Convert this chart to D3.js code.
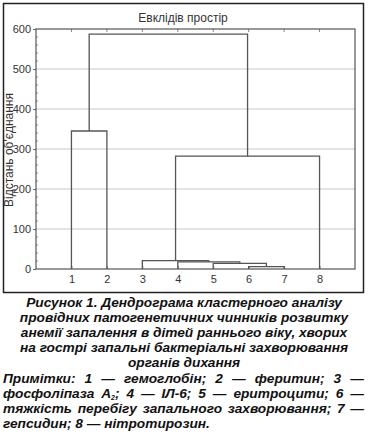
<!DOCTYPE html>
<html><head><meta charset="utf-8">
<script src="https://cdn.jsdelivr.net/npm/d3@7"></script>
<style>
html,body{margin:0;padding:0;background:#fff;}
#wrap{position:relative;width:368px;height:436px;overflow:hidden;}
.cap{position:absolute;font-family:"Liberation Sans",Arial,sans-serif;font-weight:bold;font-style:italic;font-size:13.7px;line-height:15px;height:15px;color:#111;white-space:nowrap;}
.c{left:0;width:368px;text-align:center;}
.j{left:3px;width:361px;text-align:justify;text-align-last:justify;white-space:normal;}
.l{left:3px;width:361px;text-align:left;}
sub{font-size:7px;vertical-align:-2px;line-height:0;}
</style></head>
<body><div id="wrap"><svg id="chart" width="368" height="300"></svg></div>
<script>
// ---- data ----
const leafLabels = ["1","2","3","4","5","6","7","8"];
// linkage: nodes 0..7 are leaves, merge i creates node 8+i
const mergeA = [5, 4, 3, 2, 11, 0, 13];
const mergeB = [6, 8, 9, 10, 7, 1, 12];
const mergeHeight = [6, 14, 18, 21, 282, 345, 587];
const yTicks = [0, 100, 200, 300, 400, 500, 600];
const chartTitle = "Евклідів простір";
const yLabel = "Відстань об'єднання";
const captionTitle = [
  "Рисунок 1. Дендрограма кластерного аналізу",
  "провідних патогенетичних чинників розвитку",
  "анемії запалення в дітей раннього віку, хворих",
  "на гострі запальні бактеріальні захворювання",
  "органів дихання"
];
const captionNotes = [
  "Примітки: 1 — гемоглобін; 2 — феритин; 3 —",
  "фосфоліпаза А<sub>2</sub>; 4 — ІЛ-6; 5 — еритроцити; 6 —",
  "тяжкість перебігу запального захворювання; 7 —",
  "гепсидин; 8 — нітротирозин."
];

// ---- layout ----
const svg = d3.select("#chart");
const L = 36, R = 355, T = 29, B = 269;
const x = d3.scaleLinear().domain([0, leafLabels.length + 1]).range([L, R]);
const y = d3.scaleLinear().domain([0, 600]).range([B, T]);

// outer frame
svg.append("rect").attr("x", 3.5).attr("y", 3.5).attr("width", 360).attr("height", 289)
  .attr("fill", "none").attr("stroke", "#222").attr("stroke-width", 1.5);

// grid
svg.append("g").selectAll("line").data(yTicks.filter(d => d > 0 && d < 600)).join("line")
  .attr("x1", L).attr("x2", R).attr("y1", d => y(d)).attr("y2", d => y(d))
  .attr("stroke", "#c8c8c8").attr("stroke-width", 1);

// y axis
const yAxis = d3.axisLeft(y).tickValues(yTicks).tickSize(3).tickPadding(2);
const gy = svg.append("g").attr("transform", `translate(${L},0)`).call(yAxis);
gy.select(".domain").remove();
gy.selectAll("line").attr("stroke", "#666");
gy.selectAll("text").attr("font-family", "Liberation Sans, Arial, sans-serif").attr("font-size", 11).attr("fill", "#333");
// minor ticks
svg.append("g").selectAll("line").data(d3.range(0, 601, 20).filter(d => d % 100)).join("line")
  .attr("x1", L).attr("x2", L + 2).attr("y1", d => y(d)).attr("y2", d => y(d)).attr("stroke", "#999");

// x axis
const xAxis = d3.axisBottom(x).tickValues(d3.range(1, leafLabels.length + 1))
  .tickFormat((d, i) => leafLabels[i]).tickSize(-3).tickPadding(6);
const gx = svg.append("g").attr("transform", `translate(0,${B})`).call(xAxis);
gx.select(".domain").remove();
gx.selectAll("line").attr("stroke", "#888");
gx.selectAll("text").attr("font-family", "Liberation Sans, Arial, sans-serif").attr("font-size", 11).attr("fill", "#333");
// top ticks
svg.append("g").selectAll("line").data(d3.range(1, leafLabels.length + 1)).join("line")
  .attr("x1", d => x(d)).attr("x2", d => x(d)).attr("y1", T).attr("y2", T + 3).attr("stroke", "#888");

// plot frame
svg.append("rect").attr("x", L).attr("y", T).attr("width", R - L).attr("height", B - T)
  .attr("fill", "none").attr("stroke", "#555").attr("stroke-width", 1.2);

// dendrogram
const nodeX = leafLabels.map((d, i) => x(i + 1));
const nodeH = leafLabels.map(() => 0);
const links = [];
mergeA.forEach((a, i) => {
  const b = mergeB[i], h = mergeHeight[i];
  links.push({xa: nodeX[a], ha: nodeH[a], xb: nodeX[b], hb: nodeH[b], h});
  nodeX.push((nodeX[a] + nodeX[b]) / 2);
  nodeH.push(h);
});
svg.append("g").selectAll("path").data(links).join("path")
  .attr("d", d => `M${d.xa},${y(d.ha)}V${y(d.h)}H${d.xb}V${y(d.hb)}`)
  .attr("fill", "none").attr("stroke", "#555").attr("stroke-width", 1.3);

// titles
svg.append("text").attr("x", 183).attr("y", 22).attr("text-anchor", "middle")
  .attr("font-family", "Liberation Sans, Arial, sans-serif").attr("font-size", 12).attr("fill", "#333").text(chartTitle);
svg.append("text").attr("transform", "translate(13,150) rotate(-90)").attr("text-anchor", "middle")
  .attr("font-family", "Liberation Sans, Arial, sans-serif").attr("font-size", 12).attr("fill", "#333").text(yLabel);

// caption
const wrap = d3.select("#wrap");
captionTitle.forEach((t, i) => {
  wrap.append("div").attr("class", "cap c").style("top", (295 + i * 15) + "px").text(t);
});
captionNotes.forEach((t, i) => {
  wrap.append("div").attr("class", "cap " + (i < captionNotes.length - 1 ? "j" : "l"))
    .style("top", (371 + i * 15) + "px").html(t);
});
</script></body></html>
